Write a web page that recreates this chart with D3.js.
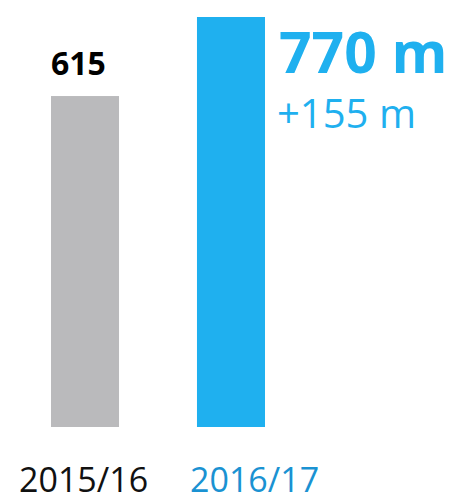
<!DOCTYPE html>
<html><head><meta charset="utf-8">
<script src="https://cdn.jsdelivr.net/npm/d3@7"></script>
<style>html,body{margin:0;padding:0;background:#fff;}svg{display:block;}</style>
</head><body>
<script>
const categories = ["2015/16", "2016/17"];
const values = [615, 770];
const valueLabels = ["615", "770 m"];
const changeLabel = "+155 m";

const W = 452, H = 498;
const svg = d3.select("body").append("svg").attr("width", W).attr("height", H);
const font = "'Open Sans', sans-serif";

const x = d3.scaleBand().domain(categories).range([7.2, 308.8]).paddingInner(0.534).paddingOuter(0.3);
const y = d3.scaleLinear().domain([-34, 770]).range([427, 17]);
const barColors = ["#bababc", "#1fb0ef"];
const labelColors = ["#111", "#1a92d2"];

svg.selectAll("rect.bar").data(values).join("rect")
  .attr("class", "bar")
  .attr("x", (d, i) => x(categories[i]))
  .attr("width", x.bandwidth())
  .attr("y", d => y(d))
  .attr("height", d => y(-34) - y(d))
  .attr("fill", (d, i) => barColors[i]);

// category labels
const labelX = [19, 190];
svg.selectAll("text.cat").data(categories).join("text")
  .attr("class", "cat")
  .attr("x", (d, i) => labelX[i])
  .attr("y", 492)
  .attr("font-family", font).attr("font-size", 34)
  .attr("fill", (d, i) => labelColors[i])
  .text(d => d);

// value label for first bar
svg.append("text")
  .attr("x", x(categories[0]))
  .attr("y", 75)
  .attr("font-family", font).attr("font-weight", 700).attr("font-size", 32)
  .attr("fill", "#000")
  .text(valueLabels[0]);

// value labels for second bar
const bx = x(categories[1]) + x.bandwidth() + 14;
svg.append("text")
  .attr("x", bx).attr("y", 73)
  .attr("font-family", font).attr("font-weight", 700).attr("font-size", 57)
  .attr("fill", "#1fb0ef")
  .text(valueLabels[1]);
svg.append("text")
  .attr("x", bx - 2).attr("y", 128)
  .attr("font-family", font).attr("font-size", 40)
  .attr("fill", "#1fb0ef")
  .text(changeLabel);
</script>
</body></html>
